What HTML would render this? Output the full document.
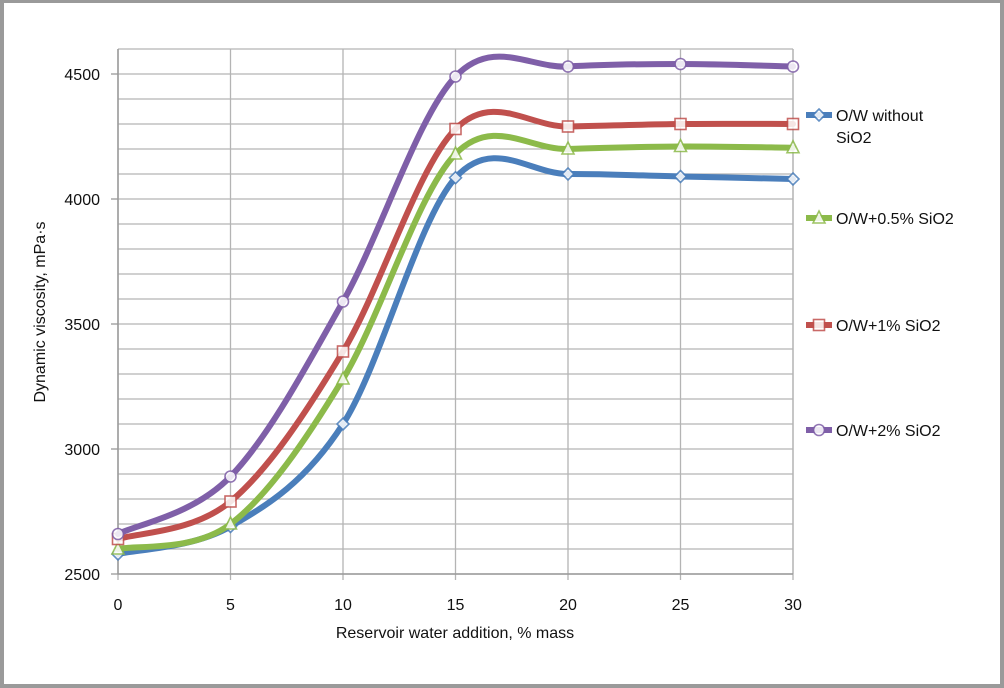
<!DOCTYPE html>
<html><head><meta charset="utf-8"><style>
html,body{margin:0;padding:0;background:#fff}
#wrap{position:relative;width:1004px;height:688px;box-sizing:border-box;border:4px solid #9a9a9a;border-top-width:3px;background:#fff}
svg{position:absolute;left:-4px;top:-3px}
text{font-family:"Liberation Sans",sans-serif;fill:#111}
</style></head><body>
<div id="wrap">
<svg id="chart" width="1004" height="688"></svg>
</div>
<script>
const categories=[0,5,10,15,20,25,30];
const seriesNames=["O/W without|SiO2","O/W+0.5% SiO2","O/W+1% SiO2","O/W+2% SiO2"];
const blueVals=[2580,2690,3100,4085,4100,4090,4080];
const greenVals=[2600,2700,3280,4180,4200,4210,4205];
const redVals=[2640,2790,3390,4280,4290,4300,4300];
const purpleVals=[2660,2890,3590,4490,4530,4540,4530];
const yTicks=[2500,3000,3500,4000,4500];
const xTicks=[0,5,10,15,20,25,30];
const colors=["#4a7ebb","#8cba4a","#c0504d","#7f5fa8"];
const markers=["diamond","triangle","square","circle"];
const allVals=[blueVals,greenVals,redVals,purpleVals];

const NS="http://www.w3.org/2000/svg";
const svg=document.getElementById('chart');
const L=118,R=793,T=49,B=574,yMin=2500,yMax=4600,xMin=0,xMax=30;
function X(v){return L+(v-xMin)/(xMax-xMin)*(R-L);}
function Y(v){return B-(v-yMin)/(yMax-yMin)*(B-T);}
function el(tag,attrs,parent){const e=document.createElementNS(NS,tag);for(const k in attrs)e.setAttribute(k,attrs[k]);(parent||svg).appendChild(e);return e;}

for(let v=yMin;v<=yMax;v+=100){
  const g=el('line',{x1:L,x2:R,y1:Y(v),y2:Y(v),stroke:'#b4b4b4','stroke-width':1.3});
  
  
}
xTicks.forEach(t=>{
  const g=el('line',{x1:X(t),x2:X(t),y1:T,y2:B+6,stroke:'#b4b4b4','stroke-width':1.3});
  
  
  const tx=el('text',{x:X(t),y:B+36,'text-anchor':'middle','font-size':16});
  tx.textContent=t;
  
  
});
el('line',{x1:R,x2:R,y1:T,y2:B,stroke:'#b4b4b4','stroke-width':1.3});
yTicks.forEach(t=>{
  el('line',{x1:L-7,x2:L,y1:Y(t),y2:Y(t),stroke:'#999','stroke-width':1.3});
  const tx=el('text',{x:L-18,y:Y(t)+6,'text-anchor':'end','font-size':16});
  tx.textContent=t;
  
  
});
const ax=el('line',{x1:L,x2:L,y1:T,y2:B,stroke:'#999','stroke-width':1.5});


const ax2=el('line',{x1:L,x2:R,y1:B,y2:B,stroke:'#999','stroke-width':1.5});



const xt=el('text',{x:455,y:638,'text-anchor':'middle','font-size':16});
xt.textContent='Reservoir water addition, % mass';


const yt=el('text',{x:0,y:0,'text-anchor':'middle','font-size':16,transform:'translate(45,312) rotate(-90)'});
yt.textContent='Dynamic viscosity, mPa·s';



function smoothPath(pts){
  let d=`M${pts[0][0]},${pts[0][1]}`;
  for(let i=0;i<pts.length-1;i++){
    const p0=pts[Math.max(0,i-1)],p1=pts[i],p2=pts[i+1],p3=pts[Math.min(pts.length-1,i+2)];
    const c1=[p1[0]+(p2[0]-p0[0])/6,p1[1]+(p2[1]-p0[1])/6];
    const c2=[p2[0]-(p3[0]-p1[0])/6,p2[1]-(p3[1]-p1[1])/6];
    d+=` C${c1[0]},${c1[1]} ${c2[0]},${c2[1]} ${p2[0]},${p2[1]}`;
  }
  return d;
}
function marker(type,x,y,color,parent){
  const a={fill:'#fff',stroke:color,'stroke-width':1.6,opacity:0.85};
  let m;
  if(type==='diamond')m=el('polygon',Object.assign({points:`${x},${y-6} ${x+6},${y} ${x},${y+6} ${x-6},${y}`},a),parent);
  else if(type==='triangle')m=el('polygon',Object.assign({points:`${x},${y-7} ${x+6},${y+5} ${x-6},${y+5}`},a),parent);
  else if(type==='square')m=el('rect',Object.assign({x:x-5.5,y:y-5.5,width:11,height:11},a),parent);
  else m=el('circle',Object.assign({cx:x,cy:y,r:5.5},a),parent);
  return m;
}
allVals.forEach((vals,si)=>{
  const g=el('g',{});
  
  
  const pts=vals.map((v,i)=>[X(categories[i]),Y(v)]);
  el('path',{d:smoothPath(pts),fill:'none',stroke:colors[si],'stroke-width':6,'stroke-linecap':'round'},g);
  pts.forEach(p=>{
    const m=marker(markers[si],p[0],p[1],colors[si],g);
    
    
  });
});
const legY=[115,218,325,430];
seriesNames.forEach((n,i)=>{
  const g=el('g',{});
  
  
  el('line',{x1:806,x2:832,y1:legY[i],y2:legY[i],stroke:colors[i],'stroke-width':6},g);
  marker(markers[i],819,legY[i],colors[i],g);
  n.split('|').forEach((s,k)=>{
    const t=el('text',{x:836,y:legY[i]+6+k*22,'font-size':16},g);
    t.textContent=s;
  });
});
</script>
</body></html>
